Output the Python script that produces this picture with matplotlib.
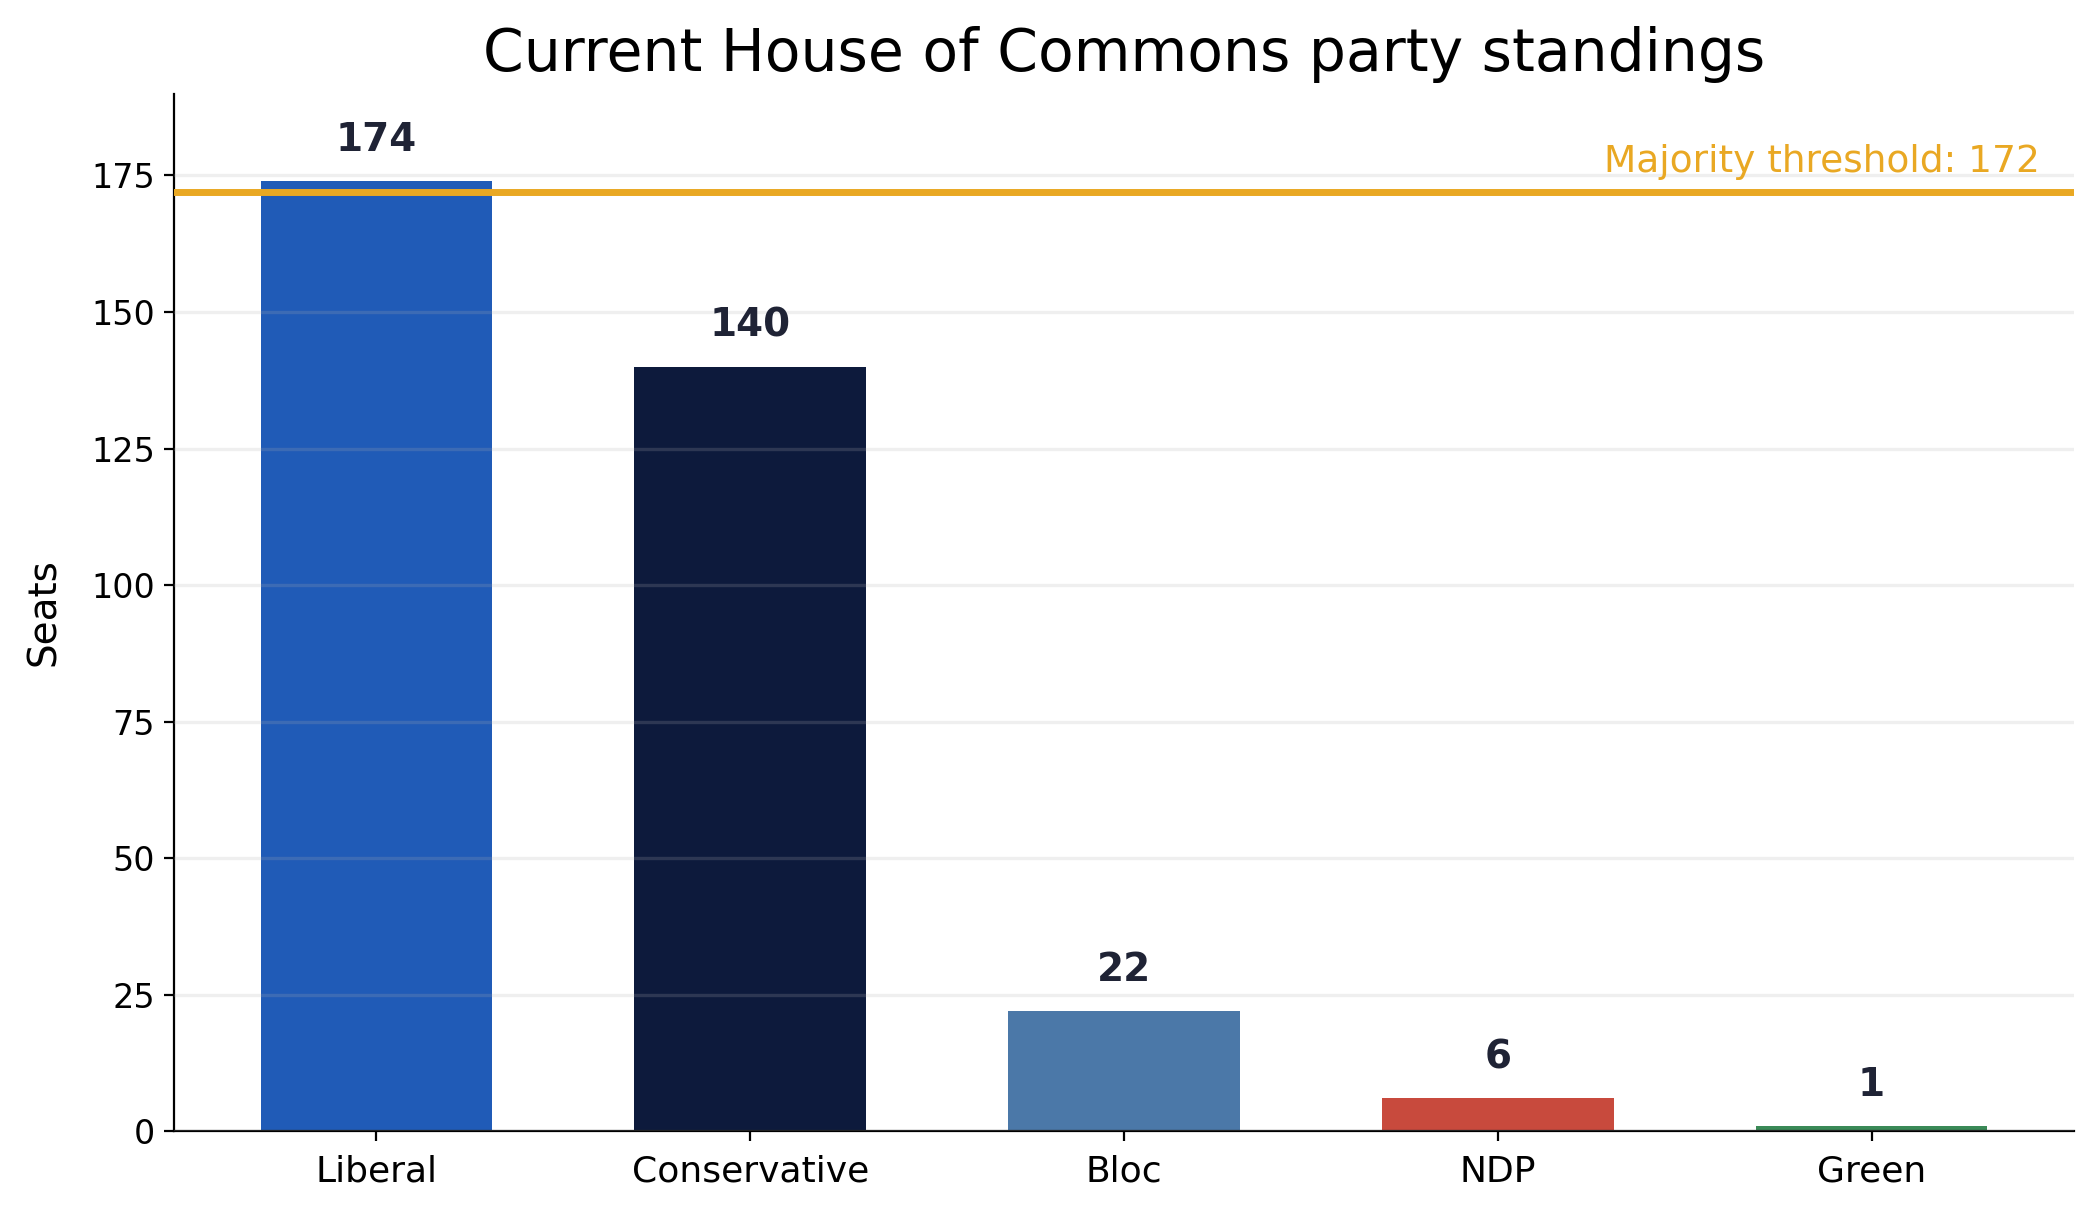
import matplotlib
matplotlib.use("Agg")
import matplotlib.pyplot as plt

# seat counts per party
parties = ["Liberal", "Conservative", "Bloc", "NDP", "Green"]
seats = [174, 140, 22, 6, 1]
party_colors = ["#205bb7", "#0d1a3c", "#4b78a8", "#c84a3d", "#3a8a57"]
majority = 172

fig, ax = plt.subplots(figsize=(10.495, 6.075), dpi=200)

bars = ax.bar(parties, seats, width=0.62, color=party_colors)

# value labels above each bar
for rect, val in zip(bars, seats):
    ax.text(rect.get_x() + rect.get_width() / 2, val + 4, str(val),
            ha="center", va="bottom", fontsize=14, fontweight="bold", color="#1f2335")

# majority line + label at right edge
ax.axhline(majority, color="#e9a823", linewidth=2.5, zorder=3)
ax.text(0.982, majority + 2.2, f"Majority threshold: {majority}",
        transform=ax.get_yaxis_transform(),
        ha="right", va="bottom", fontsize=13.5, color="#e9a823")

ax.set_ylim(0, 190)
ax.set_ylabel("Seats", fontsize=14, labelpad=10)
ax.set_title("Current House of Commons party standings", fontsize=21, pad=8)
ax.tick_params(axis="y", labelsize=12)
ax.tick_params(axis="x", labelsize=13, pad=5)
ax.yaxis.grid(True, color="#b0b0b0", alpha=0.2, linewidth=1.2)
ax.set_axisbelow(False)
for s in ["top", "right"]:
    ax.spines[s].set_visible(False)

fig.subplots_adjust(left=0.083, right=0.988, top=0.923, bottom=0.069)
fig.savefig("out.png", dpi=200)
